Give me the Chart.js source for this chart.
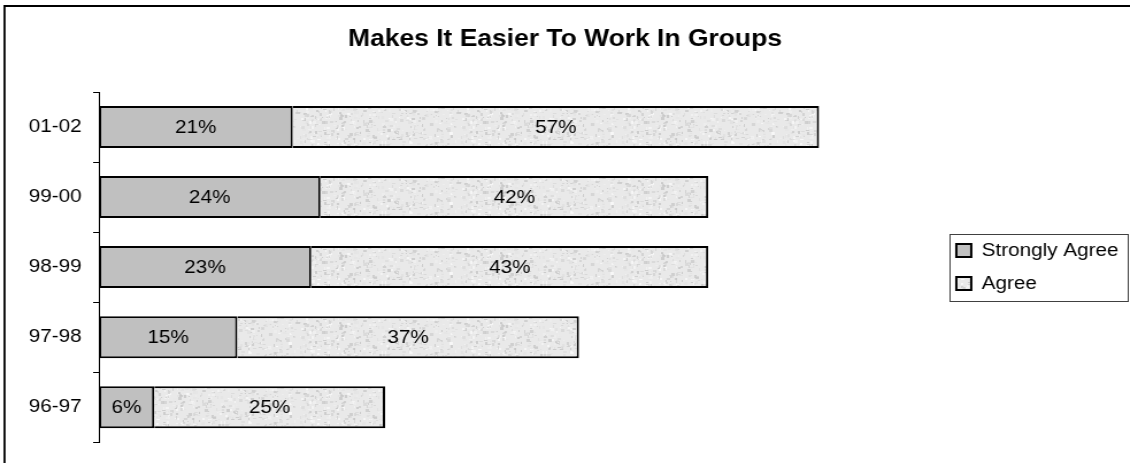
<!DOCTYPE html>
<html>
<head>
<meta charset="utf-8">
<script src="https://cdn.jsdelivr.net/npm/chart.js@4.4.0/dist/chart.umd.min.js"></script>
<style>
  html, body { margin: 0; padding: 0; background: #fff; overflow: hidden; }
  /* the original picture is stretched sideways, so the chart is too */
  #wrap { width: 983px; height: 463px; transform: scaleX(1.1495); transform-origin: 0 0; }
</style>
</head>
<body>
<div id="wrap"><canvas id="groupsChart"></canvas></div>
<script>
const years = ['01-02', '99-00', '98-99', '97-98', '96-97'];
const stronglyAgree = [21, 24, 23, 15, 6];
const agree = [57, 42, 43, 37, 25];

const FONT = '"Liberation Sans", Arial, sans-serif';

// light blotchy fill for the "Agree" bars
function speckle() {
    let c = document.createElement('canvas');
    c.width = 140;
    c.height = 70;
    let g = c.getContext('2d');
    g.fillStyle = '#e9e9e9';
    g.fillRect(0, 0, 140, 70);
    let seed = 11;
    let next = () => (seed = (seed * 16807) % 2147483647) / 2147483647;
    for (let i = 0; i < 1000; i++) {
        let v = 196 + Math.floor(next() * 56);
        g.fillStyle = 'rgba(' + v + ',' + v + ',' + v + ',0.8)';
        g.fillRect(Math.floor(next() * 140), Math.floor(next() * 70), 1 + Math.floor(next() * 3), 1 + Math.floor(next() * 3));
    }
    return g.createPattern(c, 'repeat');
}

// frame round the whole chart (only top and left are inside the window)
const frame = {
    id: 'frame',
    beforeDraw(chart) {
        let ctx = chart.ctx;
        ctx.save();
        ctx.fillStyle = '#000';
        ctx.fillRect(3, 5, chart.width, 2);
        ctx.fillRect(3, 5, 1.8, chart.height);
        ctx.restore();
    }
};

// percentage written in the middle of each bar piece
const barLabels = {
    id: 'barLabels',
    afterDatasetsDraw(chart) {
        let ctx = chart.ctx;
        ctx.save();
        ctx.font = '18px ' + FONT;
        ctx.fillStyle = '#000';
        ctx.textAlign = 'center';
        ctx.textBaseline = 'middle';
        chart.data.datasets.forEach((ds, i) => {
            chart.getDatasetMeta(i).data.forEach((bar, j) => {
                ctx.fillText(ds.data[j] + '%', (bar.x + bar.base) / 2, bar.y + 1);
            });
        });
        ctx.restore();
    }
};

// thin box round the legend
const legendBox = {
    id: 'legendBox',
    afterDraw(chart) {
        let boxes = chart.legend.legendHitBoxes;
        if (!boxes || !boxes.length) return;
        let left = boxes[0].left - 6;
        let right = Math.max(...boxes.map(b => b.left + b.width)) + 8;
        let top = boxes[0].top - 8;
        let last = boxes[boxes.length - 1];
        let bottom = last.top + last.height + 8;
        let ctx = chart.ctx;
        ctx.save();
        ctx.strokeStyle = '#404040';
        ctx.lineWidth = 1;
        ctx.strokeRect(Math.round(left) + 0.5, Math.round(top) + 0.5, Math.round(right - left), Math.round(bottom - top));
        ctx.restore();
    }
};

function drawChart() {
    let ctx = document.getElementById('groupsChart').getContext('2d');
    new Chart(ctx, {
        type: 'bar',
        data: {
            labels: years,
            datasets: [{
                label: 'Strongly Agree',
                data: stronglyAgree,
                backgroundColor: '#c0c0c0',
                borderColor: '#000',
                borderWidth: 2,
                borderSkipped: false
            }, {
                label: 'Agree',
                data: agree,
                backgroundColor: speckle(),
                borderColor: '#000',
                borderWidth: 2,
                borderSkipped: 'left'
            }]
        },
        options: {
            indexAxis: 'y',
            responsive: true,
            maintainAspectRatio: false,
            animation: false,
            barPercentage: 1,
            categoryPercentage: 0.6,
            layout: { padding: { left: 0, right: 0, top: 0, bottom: 19 } },
            scales: {
                x: { stacked: true, min: 0, max: 91, display: false },
                y: {
                    stacked: true,
                    grid: { offset: true, drawOnChartArea: false, drawTicks: true, tickLength: 5, color: '#000', lineWidth: 1 },
                    border: { display: true, color: '#000', width: 1 },
                    ticks: { color: '#000', padding: 10, font: { family: FONT, size: 18 } },
                    afterFit(scale) { scale.width = 86; }
                }
            },
            plugins: {
                title: {
                    display: true,
                    text: 'Makes It Easier To Work In Groups',
                    color: '#000',
                    font: { family: FONT, size: 23, weight: 'bold' },
                    padding: { top: 25.5, bottom: 38.9 }
                },
                legend: {
                    position: 'right',
                    fullSize: false,
                    labels: {
                        color: '#000',
                        boxWidth: 13,
                        boxHeight: 13,
                        padding: 15,
                        font: { family: FONT, size: 18 }
                    }
                },
                tooltip: { enabled: false }
            }
        },
        plugins: [frame, barLabels, legendBox]
    });
}

drawChart();
</script>
</body>
</html>
